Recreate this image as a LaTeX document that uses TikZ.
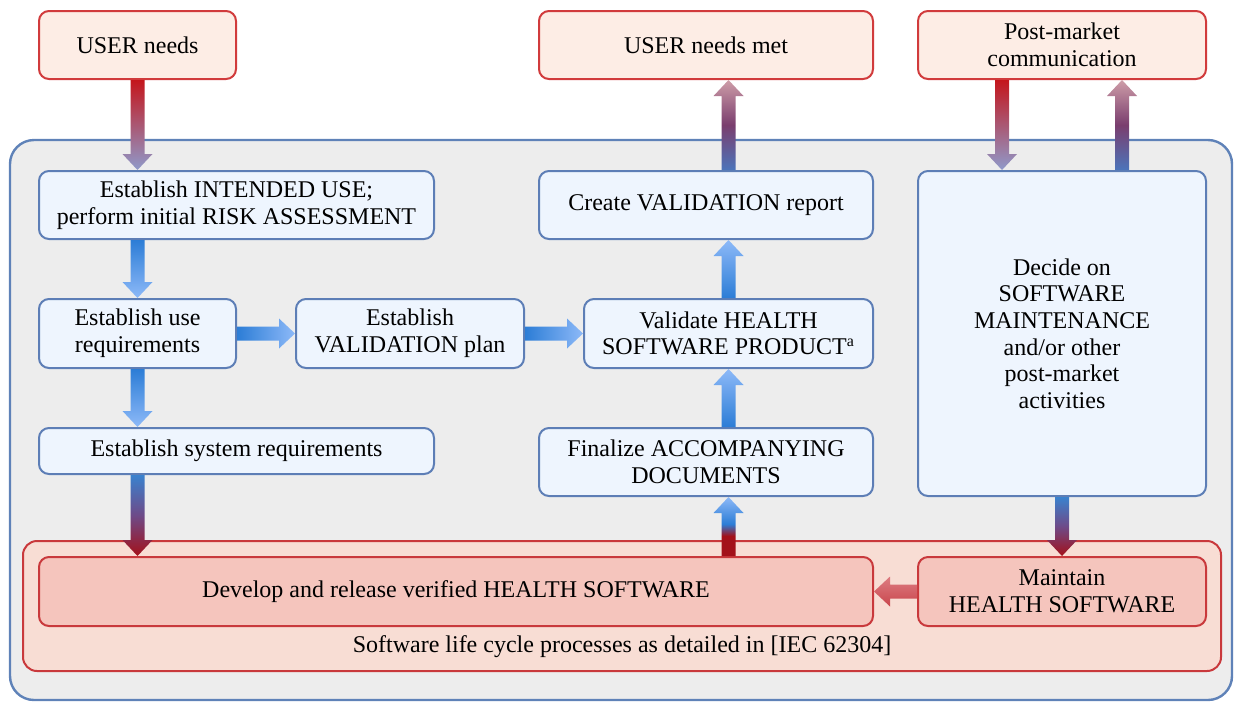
\documentclass[tikz,border=0pt]{standalone}
\usepackage{fontspec}
\setmainfont{Liberation Serif}
\usetikzlibrary{calc}

% palette
\definecolor{rfill}{HTML}{FDEDE5}
\definecolor{rborder}{HTML}{D13B3C}
\definecolor{bfill}{HTML}{EEF5FE}
\definecolor{bborder}{HTML}{5D7EB6}
\definecolor{gfill}{HTML}{EDEDED}
\definecolor{gborder}{HTML}{5F82B8}
\definecolor{lfill}{HTML}{F8DDD4}
\definecolor{lborder}{HTML}{C9393C}
\definecolor{dfill}{HTML}{F5C5BD}
% arrow colours
\definecolor{redA}{HTML}{C4161C}
\definecolor{lav}{HTML}{8F9ACB}
\definecolor{bdark}{HTML}{2C7DD6}
\definecolor{blight}{HTML}{8DB9F8}
\definecolor{dred}{HTML}{A3111A}
\definecolor{pinkT}{HTML}{CE9DA8}
\definecolor{purp}{HTML}{7A3E6E}
\definecolor{bmid}{HTML}{4C74BA}
\definecolor{mlight}{HTML}{DD7C81}
\definecolor{mdark}{HTML}{C9464D}
\definecolor{sblue}{HTML}{3A82CE}
\definecolor{spurp}{HTML}{6E4A88}

% dark red at the tail, turning blue towards the tip
\pgfdeclareverticalshading{redtoblue}{100bp}{color(0bp)=(dred); color(25bp)=(dred); color(42bp)=(dred); color(52bp)=(bdark); color(75bp)=(blight); color(100bp)=(blight)}

% thick block arrow from #2 (tail) to #3 (tip), shaded with #1
\newcommand\flowarrow[3]{%
  \coordinate (fa-t) at #2;
  \coordinate (fa-h) at #3;
  \coordinate (fa-b) at ($(fa-h)!8pt!(fa-t)$);
  \shade[#1] ($(fa-t)!3.5pt!90:(fa-h)$) -- ($(fa-b)!3.5pt!90:(fa-h)$)
    -- ($(fa-b)!7.5pt!90:(fa-h)$) -- (fa-h) -- ($(fa-b)!7.5pt!-90:(fa-h)$)
    -- ($(fa-b)!3.5pt!-90:(fa-h)$) -- ($(fa-t)!3.5pt!-90:(fa-h)$) -- cycle;
}

\tikzset{
  base/.style={rectangle, rounded corners=5pt, line width=1pt, align=center,
    inner sep=2pt, font=\fontsize{12}{13.3}\selectfont, text=black},
  userbox/.style={base, draw=rborder, fill=rfill},
  stepbox/.style={base, draw=bborder, fill=bfill},
  devbox/.style={base, draw=lborder, fill=dfill},
  outflow/.style={bottom color=bmid, top color=pinkT, middle color=purp},
  tolife/.style={top color=sblue, bottom color=dred, middle color=spurp},
}

\begin{document}
\begin{tikzpicture}[x=0.5pt, y=-0.5pt]
\useasboundingbox (0,0) rectangle (1234,702);

% outer process frame and the software life cycle band
\node[rectangle, rounded corners=12pt, line width=1.2pt, draw=gborder, fill=gfill,
  minimum width=611pt, minimum height=280pt] (frame) at (621,420) {};
\node[rectangle, rounded corners=7pt, line width=1pt, draw=lborder, fill=lfill,
  minimum width=599pt, minimum height=65pt] (life) at (622,606) {};
\node[base, inner sep=0pt] (lifelabel) at (622,647)
  {Software life cycle processes as detailed in [IEC 62304]};

% external boxes
\node[userbox, minimum width=98.5pt, minimum height=34pt] (un) at (137.5,45) {USER needs};
\node[userbox, minimum width=167pt, minimum height=34pt] (unm) at (706,45) {USER needs met};
\node[userbox, minimum width=144pt, minimum height=34pt] (pmc) at (1062,45) {Post-market\\communication};

% process steps
\node[stepbox, minimum width=197.5pt, minimum height=34pt] (intended) at (236.5,205)
  {Establish INTENDED USE;\\perform initial RISK ASSESSMENT};
\node[stepbox, minimum width=98.5pt, minimum height=34.5pt] (usereq) at (137.5,333.5)
  {Establish use\\requirements};
\node[stepbox, minimum width=114pt, minimum height=34.5pt] (valplan) at (410,333.5)
  {Establish\\VALIDATION plan};
\node[stepbox, minimum width=144.5pt, minimum height=34.5pt] (validate) at (728.5,333.5)
  {Validate HEALTH\\SOFTWARE PRODUCT\textsuperscript{a}};
\node[stepbox, minimum width=167pt, minimum height=34pt] (report) at (706,205)
  {Create VALIDATION report};
\node[stepbox, minimum width=197.5pt, minimum height=23pt] (sysreq) at (236.5,451)
  {Establish system requirements};
\node[stepbox, minimum width=167pt, minimum height=34pt] (finalize) at (706,462)
  {Finalize ACCOMPANYING\\DOCUMENTS};
\node[stepbox, minimum width=144pt, minimum height=162.5pt] (decide) at (1062,333.5)
  {Decide on\\SOFTWARE\\MAINTENANCE\\and/or other\\post-market\\activities};

% life cycle activities
\node[devbox, minimum width=417pt, minimum height=34.5pt] (develop) at (456,591.5)
  {Develop and release verified HEALTH SOFTWARE};
\node[devbox, minimum width=144pt, minimum height=34.5pt] (maintain) at (1062,591.5)
  {Maintain\\HEALTH SOFTWARE};

\coordinate (pmdown) at ([xshift=-30pt]pmc.south);
\coordinate (pmup) at ([xshift=30pt]pmc.south);

% connectors
\flowarrow{top color=redA, bottom color=lav}{(un.south)}{(un.south |- intended.north)}
\flowarrow{top color=bdark, bottom color=blight}{(usereq.north |- intended.south)}{(usereq.north)}
\flowarrow{top color=bdark, bottom color=blight}{(usereq.south)}{(usereq.south |- sysreq.north)}
\flowarrow{left color=bdark, right color=blight}{(usereq.east)}{(valplan.west)}
\flowarrow{left color=bdark, right color=blight}{(valplan.east)}{(validate.west)}
\flowarrow{bottom color=bdark, top color=blight}{(validate.north)}{(validate.north |- report.south)}
\flowarrow{bottom color=bdark, top color=blight}{(validate.south |- finalize.north)}{(validate.south)}
\flowarrow{shading=redtoblue}{(develop.north -| validate.south)}{(finalize.south -| validate.south)}
\flowarrow{outflow}{(report.north -| validate.north)}{(unm.south -| validate.north)}
\flowarrow{tolife}{(sysreq.south -| usereq.south)}{(develop.north -| usereq.south)}
\flowarrow{top color=redA, bottom color=lav}{(pmdown)}{(pmdown |- decide.north)}
\flowarrow{outflow}{(pmup |- decide.north)}{(pmup)}
\flowarrow{tolife}{(decide.south)}{(maintain.north)}
\flowarrow{top color=mlight, bottom color=mdark}{(maintain.west)}{(develop.east)}
\end{tikzpicture}
\end{document}
